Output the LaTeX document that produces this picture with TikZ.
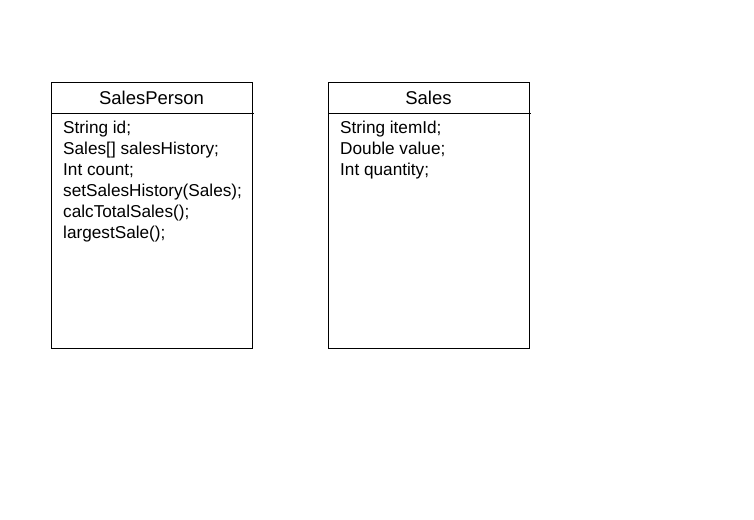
\documentclass[tikz,border=0pt]{standalone}
\usepackage{fontspec}
\setmainfont{Liberation Sans}
\begin{document}
\begin{tikzpicture}[x=1pt,y=-1pt,
  classbox/.style={draw=black, line width=0.9pt, minimum width=201pt, minimum height=266pt, anchor=north west, inner sep=0pt},
  divider/.style={draw=black, line width=0.9pt},
  titletext/.style={anchor=base, inner sep=0pt, font=\fontsize{18.5}{22}\selectfont},
  bodytext/.style={anchor=base west, inner sep=0pt, font=\fontsize{17.2}{21}\selectfont}]
\useasboundingbox[fill=white] (0,0) rectangle (754,519);
% SalesPerson
\node[classbox] (sp) at (51,82) {};
\coordinate (spdl) at (51,113.5);
\coordinate (spdr) at (254,113.5);
\draw[divider] (spdl) -- (spdr);
\node[titletext] (sptitle) at (151.5,104) {SalesPerson};
\foreach \t [count=\i] in {String id;, Sales[] salesHistory;, Int count;, setSalesHistory(Sales);, calcTotalSales();, largestSale();}
  \node[bodytext] (spl\i) at (63,{133+21*(\i-1)}) {\t};
% Sales
\node[classbox] (sa) at (328,82) {};
\coordinate (sadl) at (328,113.5);
\coordinate (sadr) at (531,113.5);
\draw[divider] (sadl) -- (sadr);
\node[titletext] (satitle) at (428.5,104) {Sales};
\foreach \t [count=\i] in {String itemId;, Double value;, Int quantity;}
  \node[bodytext] (sal\i) at (340,{133+21*(\i-1)}) {\t};
\end{tikzpicture}
\end{document}
